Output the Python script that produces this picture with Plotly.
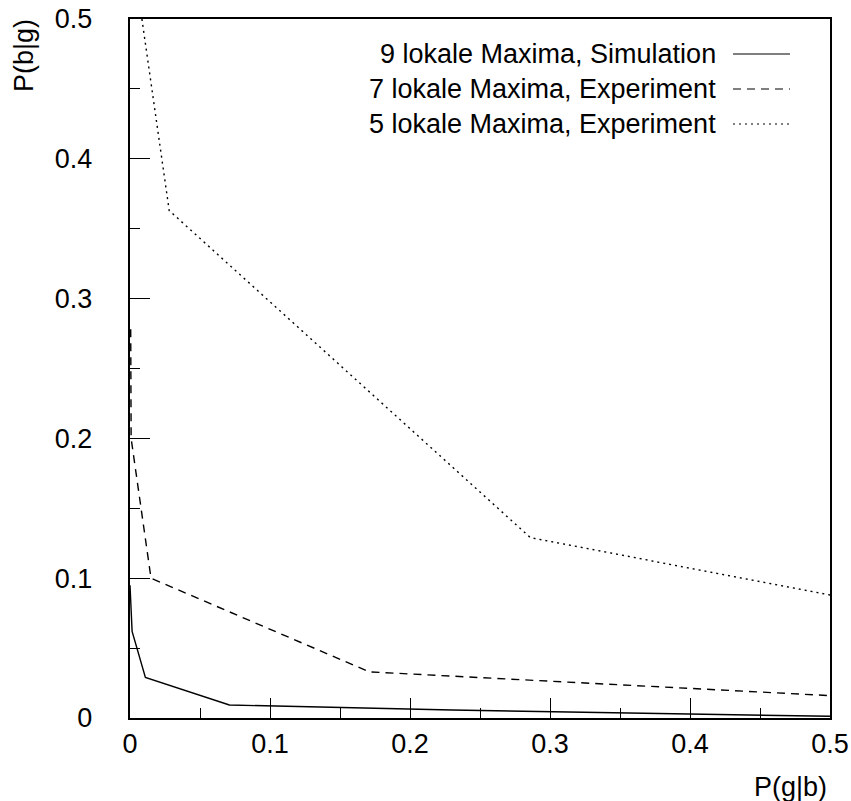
import plotly.graph_objects as go

# P(g|b) vs. P(b|g) for the three maxima configurations
sim_x = [0.0, 0.0015, 0.011, 0.071, 0.23, 0.5]
sim_y = [0.095, 0.062, 0.029, 0.0093, 0.0057, 0.0012]

exp7_x = [0.0005, 0.0008, 0.015, 0.171, 0.5]
exp7_y = [0.278, 0.2, 0.1, 0.033, 0.016]

exp5_x = [0.0085, 0.028, 0.286, 0.5]
exp5_y = [0.5, 0.363, 0.129, 0.088]

series_names = [
    "9 lokale Maxima, Simulation",
    "7 lokale Maxima, Experiment",
    "5 lokale Maxima, Experiment",
]
series_dash = ["solid", "8px,6px", "2px,4px"]

FONT = "Liberation Sans, Arial, Helvetica, sans-serif"
FS = 27

fig = go.Figure()
for xs, ys, name, dash in zip(
    [sim_x, exp7_x, exp5_x], [sim_y, exp7_y, exp5_y], series_names, series_dash
):
    fig.add_trace(
        go.Scatter(
            x=xs, y=ys, mode="lines", name=name,
            line=dict(color="black", width=1.4, dash=dash),
            showlegend=False, cliponaxis=True,
        )
    )

axis_common = dict(
    range=[0, 0.5],
    automargin=False,
    showgrid=False,
    zeroline=False,
    showline=True,
    linecolor="black",
    linewidth=1.5,
    mirror=True,
    ticks="inside",
    ticklen=20,
    tickwidth=1.3,
    tickcolor="black",
    tick0=0,
    dtick=0.1,
    tickfont=dict(family=FONT, size=FS, color="black"),
    minor=dict(ticks="inside", ticklen=10, tickwidth=1.3, tickcolor="black",
               dtick=0.05, tick0=0, showgrid=False),
)

fig.update_xaxes(**axis_common, ticklabelstandoff=1)
fig.update_yaxes(**axis_common, ticklabelstandoff=23, ticksuffix="\u00a0")

# legend drawn as right-aligned text with line samples to its right
legend_y = [54, 89, 124]
plot_l, plot_r, plot_t, plot_b = 130, 830, 19, 718
W, H = 851, 801


def px_x(p):
    return (p - plot_l) / (plot_r - plot_l)


def px_y(p):
    return (plot_b - p) / (plot_b - plot_t)


for name, dash, yy in zip(series_names, series_dash, legend_y):
    fig.add_annotation(
        x=px_x(718), y=px_y(yy), xref="paper", yref="paper",
        text=name, showarrow=False, xanchor="right", yanchor="middle",
        font=dict(family=FONT, size=FS, color="black"),
    )
    fig.add_shape(
        type="line", xref="paper", yref="paper",
        x0=px_x(733), x1=px_x(790), y0=px_y(yy), y1=px_y(yy),
        line=dict(color="black", width=1.2, dash=dash),
    )

fig.add_annotation(
    x=px_x(24), y=px_y(55), xref="paper", yref="paper",
    text="P(b|g)", showarrow=False, textangle=-90,
    xanchor="center", yanchor="middle",
    font=dict(family=FONT, size=FS, color="black"),
)
fig.add_annotation(
    x=px_x(829), y=px_y(787), xref="paper", yref="paper",
    text="P(g|b)", showarrow=False,
    xanchor="right", yanchor="middle",
    font=dict(family=FONT, size=FS, color="black"),
)

fig.update_layout(
    width=W, height=H,
    margin=dict(l=plot_l, r=W - plot_r, t=plot_t, b=H - plot_b),
    paper_bgcolor="white",
    plot_bgcolor="white",
    showlegend=False,
)

fig.write_html("out.html")
